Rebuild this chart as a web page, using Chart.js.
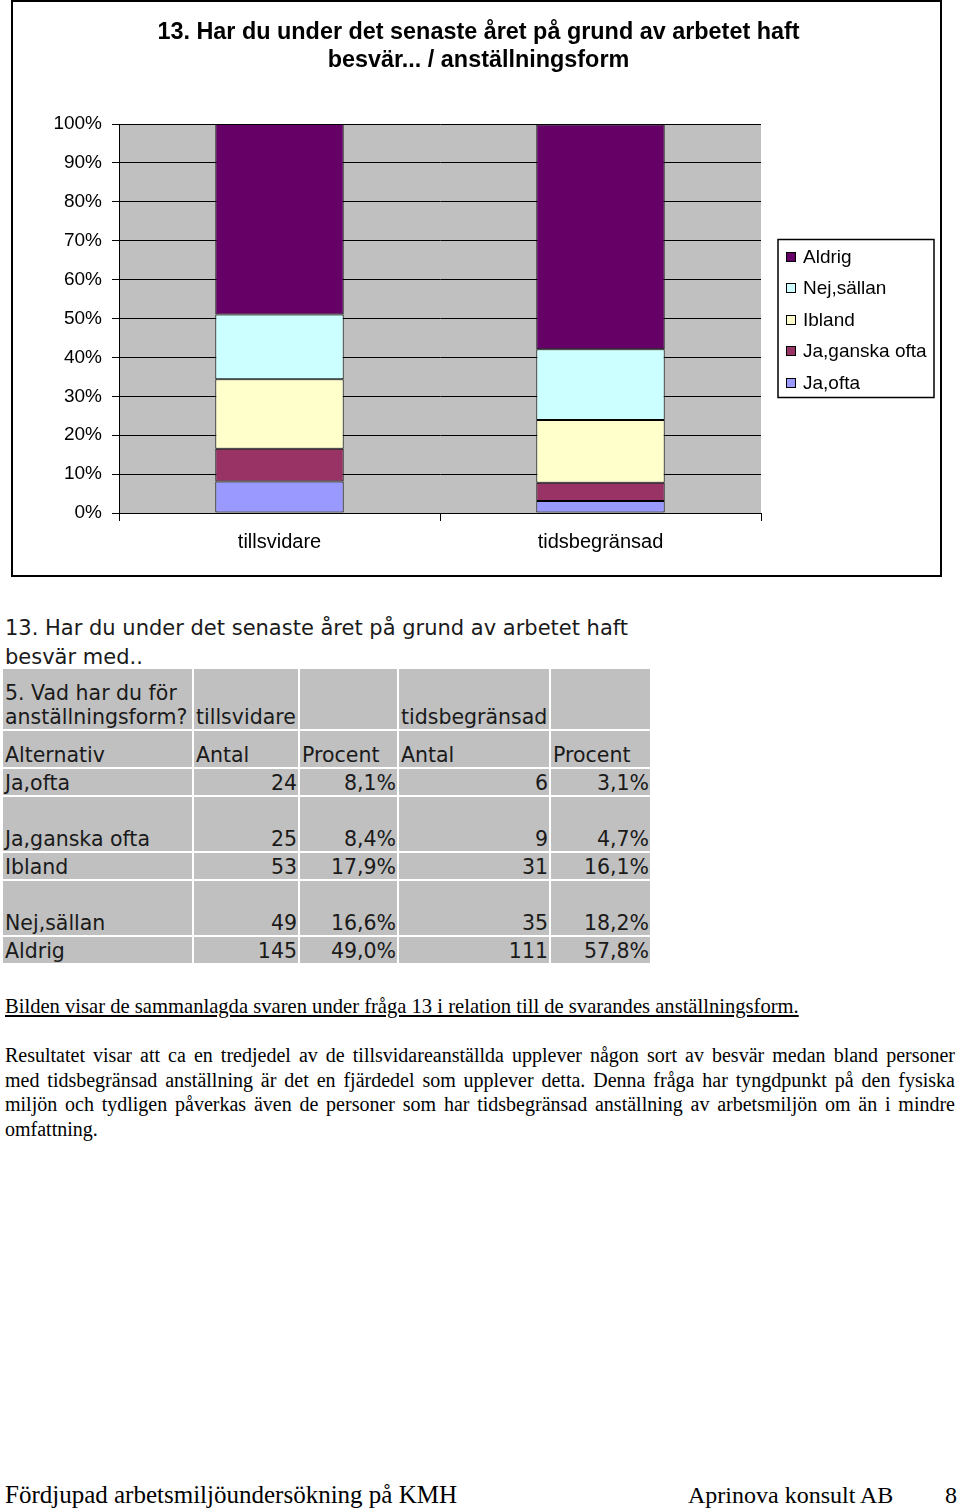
<!DOCTYPE html>
<html>
<head>
<meta charset="utf-8">
<script src="https://cdn.jsdelivr.net/npm/chart.js@4.4.0/dist/chart.umd.min.js"></script>
<style>
  html, body { margin: 0; padding: 0; background: #fff; }
  body { width: 960px; height: 1509px; position: relative; overflow: hidden; }
  #frame { position: absolute; left: 11px; top: 0; width: 931px; height: 577px; border: 2px solid #000; box-sizing: border-box; }
  #frame canvas { display: block; }
  #q { position: absolute; left: 5px; top: 614px; font-family: "DejaVu Sans", sans-serif; font-size: 21px; line-height: 29px; color: #1a1a1a; }
  #tbl { position: absolute; left: 1px; top: 667px; border-collapse: separate; border-spacing: 2px; table-layout: fixed;
         font-family: "DejaVu Sans", sans-serif; font-size: 20.5px; line-height: 24px; color: #1a1a1a; }
  #tbl td { background: #c0c0c0; padding: 0 1px 0 2px; vertical-align: bottom; white-space: nowrap; overflow: hidden; }
  #tbl td.n { text-align: right; }
  .serif { font-family: "Liberation Serif", "Times New Roman", serif; color: #000; }
  #p1 { position: absolute; left: 5px; top: 994px; font-size: 20.6px; line-height: 24px; text-decoration: underline; }
  #p2 { position: absolute; left: 5px; top: 1043px; width: 950px; font-size: 20px; line-height: 24.5px; }
  #p2 div { text-align: justify; text-align-last: justify; }
  #p2 div.last { text-align-last: left; }
  #foot1 { position: absolute; left: 5px; top: 1480px; font-size: 25px; line-height: 30px; }
  #foot2 { position: absolute; left: 688px; top: 1480px; font-size: 24px; line-height: 30px; }
  #foot3 { position: absolute; left: 945px; top: 1480px; font-size: 24px; line-height: 30px; }
</style>
</head>
<body>
<div id="frame"><canvas id="c" width="927" height="573"></canvas></div>

<div id="q">13. Har du under det senaste året på grund av arbetet haft<br>besvär med..</div>
<table id="tbl"><colgroup><col style="width:189px"><col style="width:104px"><col style="width:97px"><col style="width:150px"><col style="width:99px"></colgroup><tbody id="tb"></tbody></table>

<div id="p1" class="serif">Bilden visar de sammanlagda svaren under fråga 13 i relation till de svarandes anställningsform.</div>
<div id="p2" class="serif">
  <div>Resultatet visar att ca en tredjedel av de tillsvidareanställda upplever någon sort av besvär medan bland personer</div>
  <div>med tidsbegränsad anställning är det en fjärdedel som upplever detta. Denna fråga har tyngdpunkt på den fysiska</div>
  <div>miljön och tydligen påverkas även de personer som har tidsbegränsad anställning av arbetsmiljön om än i mindre</div>
  <div class="last">omfattning.</div>
</div>
<div id="foot1" class="serif">Fördjupad arbetsmiljöundersökning på KMH</div>
<div id="foot2" class="serif">Aprinova konsult AB</div>
<div id="foot3" class="serif">8</div>

<script>
// ---- data ----
const categories = ['tillsvidare', 'tidsbegränsad'];
const seriesNames = ['Ja,ofta', 'Ja,ganska ofta', 'Ibland', 'Nej,sällan', 'Aldrig'];
const jaOfta       = [8.1, 3.1];
const jaGanskaOfta = [8.4, 4.7];
const ibland       = [17.9, 16.1];
const nejSallan    = [16.6, 18.2];
const aldrig       = [49.0, 57.8];
const antalTillsvidare   = [24, 25, 53, 49, 145];
const antalTidsbegransad = [6, 9, 31, 35, 111];
const yTickValues = [0, 10, 20, 30, 40, 50, 60, 70, 80, 90, 100];
const seriesColors = ['#9999FF', '#993366', '#FFFFCC', '#CCFFFF', '#660066'];
const chartTitle = ['13. Har du under det senaste året på grund av arbetet haft', 'besvär... / anställningsform'];

const seriesValues = [jaOfta, jaGanskaOfta, ibland, nejSallan, aldrig];

// ---- table ----
const fmt = v => v.toFixed(1).replace('.', ',') + '%';
const rowHeights = [60, 36, 26, 54, 26, 54, 26];
const tb = document.getElementById('tb');
function addRow(h, cells) {
  const tr = document.createElement('tr');
  tr.style.height = h + 'px';
  cells.forEach(c => {
    const td = document.createElement('td');
    td.innerHTML = c.t;
    if (c.n) td.className = 'n';
    tr.appendChild(td);
  });
  tb.appendChild(tr);
}
addRow(rowHeights[0], [{t: '5. Vad har du för<br>anställningsform?'}, {t: categories[0]}, {t: ''}, {t: categories[1]}, {t: ''}]);
addRow(rowHeights[1], [{t: 'Alternativ'}, {t: 'Antal'}, {t: 'Procent'}, {t: 'Antal'}, {t: 'Procent'}]);
seriesNames.forEach((name, i) => {
  addRow(rowHeights[i + 2], [
    {t: name},
    {t: String(antalTillsvidare[i]), n: true},
    {t: fmt(seriesValues[i][0]), n: true},
    {t: String(antalTidsbegransad[i]), n: true},
    {t: fmt(seriesValues[i][1]), n: true}
  ]);
});

// ---- chart ----
const plotBg = {
  id: 'plotBg',
  beforeDraw(chart) {
    const {ctx, chartArea: a} = chart;
    ctx.save();
    ctx.fillStyle = '#c0c0c0';
    ctx.fillRect(a.left, a.top, a.right - a.left, a.bottom - a.top);
    ctx.restore();
  }
};
const centerTitle = {
  id: 'centerTitle',
  afterDraw(chart) {
    const ctx = chart.ctx;
    ctx.save();
    ctx.fillStyle = '#000';
    ctx.font = 'bold 23.4px "Liberation Sans", Arial, sans-serif';
    ctx.textAlign = 'center';
    ctx.textBaseline = 'middle';
    chartTitle.forEach((line, i) => ctx.fillText(line, chart.width / 2 + 2, 31 + i * 28));
    ctx.restore();
  }
};
const boxLegend = {
  id: 'boxLegend',
  afterDraw(chart) {
    const {ctx, chartArea: a} = chart;
    const ds = chart.data.datasets.slice().reverse();
    const w = 156, rowH = 31.5, h = 158;
    const left = a.right + 17;
    const top = (a.top + a.bottom) / 2 - h / 2;
    ctx.save();
    ctx.fillStyle = '#fff';
    ctx.fillRect(left, top, w, h);
    ctx.strokeStyle = '#000';
    ctx.lineWidth = 1.5;
    ctx.strokeRect(left, top, w, h);
    ctx.font = '19px "Liberation Sans", Arial, sans-serif';
    ctx.textBaseline = 'middle';
    ds.forEach((d, i) => {
      const cy = Math.round(top + 17 + i * rowH);
      ctx.fillStyle = d.backgroundColor;
      ctx.fillRect(left + 8, cy - 5, 10, 10);
      ctx.lineWidth = 1;
      ctx.strokeStyle = '#000';
      ctx.strokeRect(left + 8.5, cy - 4.5, 9, 9);
      ctx.fillStyle = '#000';
      ctx.fillText(d.label, left + 25, cy + 1);
    });
    ctx.restore();
  }
};

new Chart(document.getElementById('c'), {
  type: 'bar',
  data: {
    labels: categories,
    datasets: seriesNames.map((name, i) => ({
      label: name,
      data: seriesValues[i],
      backgroundColor: seriesColors[i],
      borderColor: '#000',
      borderWidth: 1,
      borderSkipped: false,
      barPercentage: 0.4,
      categoryPercentage: 1.0
    }))
  },
  options: {
    responsive: false,
    animation: false,
    devicePixelRatio: 1,
    layout: { padding: { left: 0, right: 179, top: 122, bottom: 0 } },
    plugins: {
      legend: { display: false },
      tooltip: { enabled: false },
      title: { display: false }
    },
    scales: {
      x: {
        stacked: true,
        afterFit(s) { s.height = 62; },
        grid: { display: true, drawOnChartArea: false, drawTicks: true, tickLength: 8, color: '#000', offset: true },
        border: { display: true, color: '#000', width: 1 },
        ticks: { color: '#000', padding: 9, font: { family: '"Liberation Sans", Arial, sans-serif', size: 20 } }
      },
      y: {
        stacked: true,
        min: 0,
        max: 100,
        afterFit(s) { s.width = 106; },
        afterBuildTicks(s) { s.ticks = yTickValues.map(v => ({ value: v })); },
        grid: { color: '#000', lineWidth: 1, drawTicks: true, tickLength: 7 },
        border: { display: true, color: '#000', width: 1 },
        ticks: { color: '#000', padding: 10, callback: v => v + '%', font: { family: '"Liberation Sans", Arial, sans-serif', size: 19 } }
      }
    }
  },
  plugins: [plotBg, centerTitle, boxLegend]
});
</script>
</body>
</html>
